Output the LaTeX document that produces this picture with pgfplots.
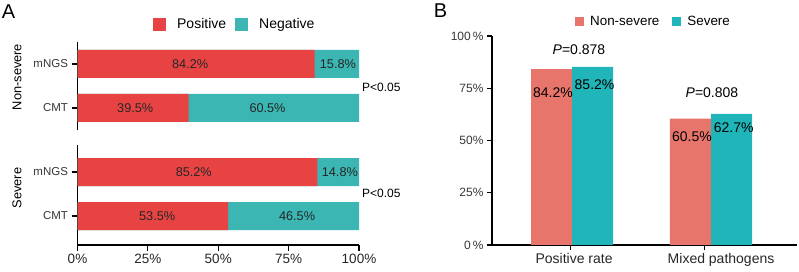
\documentclass[border=0pt]{standalone}
\usepackage{fontspec}
\setmainfont{Liberation Sans}
\usepackage{pgfplots}
\pgfplotsset{compat=1.18}
\definecolor{redA}{RGB}{232,67,67}
\definecolor{tealA}{RGB}{60,182,178}
\definecolor{redB}{RGB}{232,117,107}
\definecolor{tealB}{RGB}{32,182,185}
\definecolor{tickgray}{RGB}{55,55,55}
\pgfplotsset{
  panelA/.style={scale only axis, width=281.5pt, xmin=0, xmax=100,
    axis y line*=left, tick align=outside, major tick length=6pt,
    ytick={0,1}, yticklabels={CMT,mNGS},
    yticklabel style={font=\fontsize{11.5}{12}\selectfont, text=tickgray},
    axis line style={line width=1.1pt}, tick style={line width=1.1pt, black},
    clip=false},
  lbl/.style={only marks, mark=*, mark size=0pt, mark options={draw=none, fill=none},
    nodes near coords, point meta=explicit symbolic, nodes near coords align=center,
    forget plot},
}
\begin{document}
\begin{tikzpicture}
\useasboundingbox (0pt,0pt) rectangle (799pt,272pt);
% Panel A upper
\begin{axis}[panelA, at={(77.5pt,142pt)}, anchor=south west, height=88pt,
  ymin=-0.5, ymax=1.5, axis x line=none,
  legend image code/.code={\fill[#1] (0pt,-6.5pt) rectangle (13pt,6.5pt);},
  legend style={at={(axis description cs:0.268,1.199)}, anchor=west, draw=none, fill=none,
    font=\fontsize{14}{16}\selectfont, legend columns=2, inner sep=0pt,
    nodes={inner sep=0pt},
    /tikz/every odd column/.append style={column sep=11pt},
    /tikz/every even column/.append style={column sep=9pt}},
  legend cell align=left]
\addplot[xbar, bar width=28pt, bar shift=0pt, fill=tealA, draw=none, forget plot] coordinates {(100,1) (100,0)};
\addplot[xbar, bar width=28pt, bar shift=0pt, fill=redA, draw=none] coordinates {(84.2,1) (39.5,0)};
\addlegendentry{Positive}
\addlegendimage{fill=tealA, draw=none}
\addlegendentry{Negative}
\addplot[lbl, nodes near coords style={font=\fontsize{12.7}{14}\selectfont, text=black!85}] coordinates {(40,1)[84.2\%] (92.5,1)[15.8\%] (20.5,0)[39.5\%] (67.5,0)[60.5\%]};
\end{axis}
% Panel A lower
\begin{axis}[panelA, at={(77.5pt,27pt)}, anchor=south west, height=100pt,
  ymin=-0.659, ymax=1.614, axis x line*=bottom,
  xtick={0,25,50,75,100}, xticklabels={0\%,25\%,50\%,75\%,100\%},
  xticklabel style={font=\fontsize{13.5}{15}\selectfont, text=black!85}]
\addplot[xbar, bar width=28pt, bar shift=0pt, fill=tealA, draw=none] coordinates {(100,1) (100,0)};
\addplot[xbar, bar width=28pt, bar shift=0pt, fill=redA, draw=none] coordinates {(85.2,1) (53.5,0)};
\addplot[lbl, nodes near coords style={font=\fontsize{12.7}{14}\selectfont, text=black!85}] coordinates {(41.3,1)[85.2\%] (93.2,1)[14.8\%] (28.3,0)[53.5\%] (78,0)[46.5\%]};
\end{axis}
% Panel B
\begin{axis}[scale only axis, at={(492pt,27pt)}, anchor=south west, width=305pt, height=209pt,
  xmin=-0.576, xmax=1.619, ymin=0, ymax=100, clip=false,
  axis x line*=bottom, axis y line*=left, tick align=outside, major tick length=5pt,
  axis line style={line width=1.1pt}, tick style={line width=1.1pt, black},
  xtick={-0.014,0.95}, xticklabels={{\hspace*{8pt}Positive rate}, {\hspace*{34pt}Mixed pathogens}},
  xticklabel style={font=\fontsize{14}{16}\selectfont, text=black!85},
  ytick={0,25,50,75,100}, yticklabels={0\,\%,25\%,50\%,75\%,100\,\%},
  yticklabel style={font=\fontsize{12}{14}\selectfont, text=tickgray},
  legend image code/.code={\fill[#1] (0pt,-4.5pt) rectangle (9pt,4.5pt);},
  legend style={at={(axis description cs:0.272,1.069)}, anchor=west, draw=none, fill=none,
    font=\fontsize{13.4}{15}\selectfont, legend columns=2, inner sep=0pt,
    nodes={inner sep=0pt},
    /tikz/every odd column/.append style={column sep=6pt},
    /tikz/every even column/.append style={column sep=13pt}},
  legend cell align=left]
\addplot[ybar, bar width=41pt, bar shift=-20.5pt, fill=redB, draw=none] coordinates {(0,84.2) (1,60.5)};
\addlegendentry{Non-severe}
\addplot[ybar, bar width=41pt, bar shift=20.5pt, fill=tealB, draw=none] coordinates {(0,85.2) (1,62.7)};
\addlegendentry{Severe}
\addplot[lbl, nodes near coords style={font=\fontsize{14}{16}\selectfont, text=black}] coordinates {(-0.137,72.7)[84.2\%] (0.162,76.6)[85.2\%] (0.863,51.7)[60.5\%] (1.163,56.0)[62.7\%] (0.05,93.3)[\textit{P}=0.878] (1.007,72.7)[\textit{P}=0.808]};
\end{axis}
% annotations
\node[font=\fontsize{20}{22}\selectfont] at (8.5pt,260.5pt) {A};
\node[font=\fontsize{20}{22}\selectfont] at (440.5pt,261.5pt) {B};
\node[rotate=90, font=\fontsize{12.8}{14}\selectfont] at (17pt,195pt) {Non-severe};
\node[rotate=90, font=\fontsize{12.8}{14}\selectfont] at (17pt,84pt) {Severe};
\node[anchor=west, inner sep=0pt, font=\fontsize{12}{14}\selectfont] at (362pt,185pt) {P<0.05};
\node[anchor=west, inner sep=0pt, font=\fontsize{12}{14}\selectfont] at (362pt,79pt) {P<0.05};
\end{tikzpicture}
\end{document}
